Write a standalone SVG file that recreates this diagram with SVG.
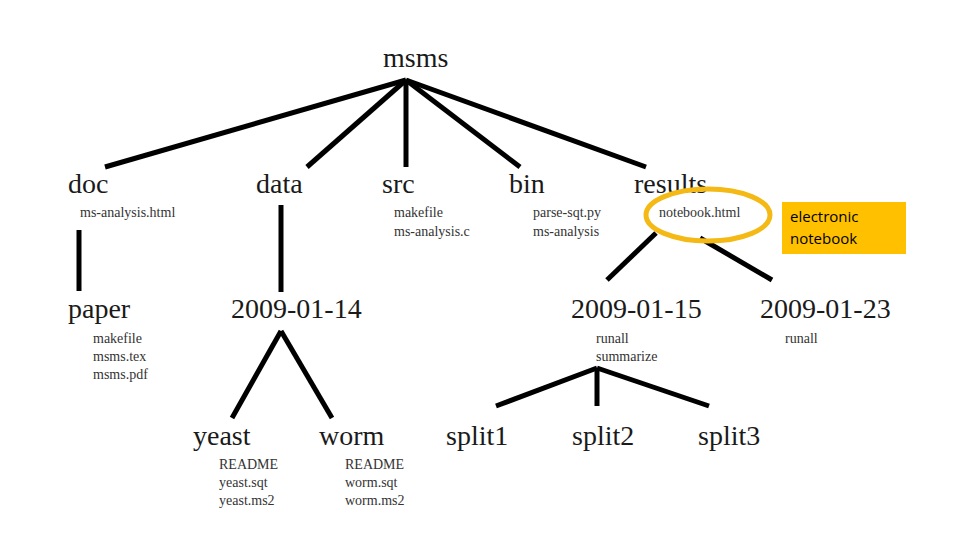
<svg xmlns="http://www.w3.org/2000/svg" width="960" height="540" viewBox="0 0 960 540">
<style>
.big{font-family:"Liberation Serif",serif;font-size:28px;fill:#1a1a1a}
.small{font-family:"Liberation Serif",serif;font-size:14px;fill:#333}
.edge{stroke:#000;stroke-width:5;fill:none;stroke-linecap:butt}
.note{font-family:"Open Sans",sans-serif;font-size:15px;fill:#000}
</style>
<rect width="960" height="540" fill="#fff"/>
<g id="connectors">
<line class="edge" x1="406" y1="80" x2="105" y2="167"/>
<line class="edge" x1="406" y1="80" x2="307" y2="167"/>
<line class="edge" x1="406" y1="80" x2="406" y2="167"/>
<line class="edge" x1="406" y1="80" x2="520" y2="167"/>
<line class="edge" x1="406" y1="80" x2="646" y2="167"/>
<line class="edge" x1="79" y1="230" x2="79" y2="291"/>
<line class="edge" x1="281" y1="205" x2="281" y2="292"/>
<line class="edge" x1="656" y1="233" x2="607" y2="280"/>
<line class="edge" x1="700" y1="238" x2="772" y2="280"/>
<line class="edge" x1="281" y1="331" x2="232" y2="418"/>
<line class="edge" x1="281" y1="331" x2="332" y2="418"/>
<line class="edge" x1="597" y1="368" x2="496" y2="406"/>
<line class="edge" x1="597" y1="368" x2="597" y2="406"/>
<line class="edge" x1="597" y1="368" x2="709" y2="406"/>
</g>
<g id="msms"><text class="big" x="383" y="67">msms</text></g>
<g id="doc"><text class="big" x="68" y="193">doc</text>
<text class="small" x="80" y="217">ms-analysis.html</text></g>
<g id="data"><text class="big" x="256" y="193">data</text></g>
<g id="src"><text class="big" x="382" y="193">src</text>
<text class="small" x="394" y="217">makefile</text>
<text class="small" x="394" y="236">ms-analysis.c</text></g>
<g id="bin"><text class="big" x="509" y="193">bin</text>
<text class="small" x="533" y="217">parse-sqt.py</text>
<text class="small" x="533" y="236">ms-analysis</text></g>
<g id="results"><text class="big" x="634" y="193">results</text>
<text class="small" x="659" y="217">notebook.html</text></g>
<g id="highlight"><ellipse cx="708" cy="215" rx="62" ry="26" fill="none" stroke="#F5B915" stroke-width="5"/></g>
<g id="callout"><rect x="782" y="202" width="124" height="52" fill="#FFC000"/>
<text class="note" x="790" y="222">electronic</text>
<text class="note" x="790" y="244">notebook</text></g>
<g id="paper"><text class="big" x="68" y="318">paper</text>
<text class="small" x="93" y="343">makefile</text>
<text class="small" x="93" y="361">msms.tex</text>
<text class="small" x="93" y="379">msms.pdf</text></g>
<g id="d20090114"><text class="big" x="231" y="318">2009-01-14</text></g>
<g id="d20090115"><text class="big" x="571" y="318">2009-01-15</text>
<text class="small" x="596" y="343">runall</text>
<text class="small" x="596" y="361">summarize</text></g>
<g id="d20090123"><text class="big" x="760" y="318">2009-01-23</text>
<text class="small" x="785" y="343">runall</text></g>
<g id="yeast"><text class="big" x="193" y="445">yeast</text>
<text class="small" x="219" y="469">README</text>
<text class="small" x="219" y="487">yeast.sqt</text>
<text class="small" x="219" y="505">yeast.ms2</text></g>
<g id="worm"><text class="big" x="319" y="445">worm</text>
<text class="small" x="345" y="469">README</text>
<text class="small" x="345" y="487">worm.sqt</text>
<text class="small" x="345" y="505">worm.ms2</text></g>
<g id="split1"><text class="big" x="446" y="445">split1</text></g>
<g id="split2"><text class="big" x="572" y="445">split2</text></g>
<g id="split3"><text class="big" x="698" y="445">split3</text></g>
</svg>
